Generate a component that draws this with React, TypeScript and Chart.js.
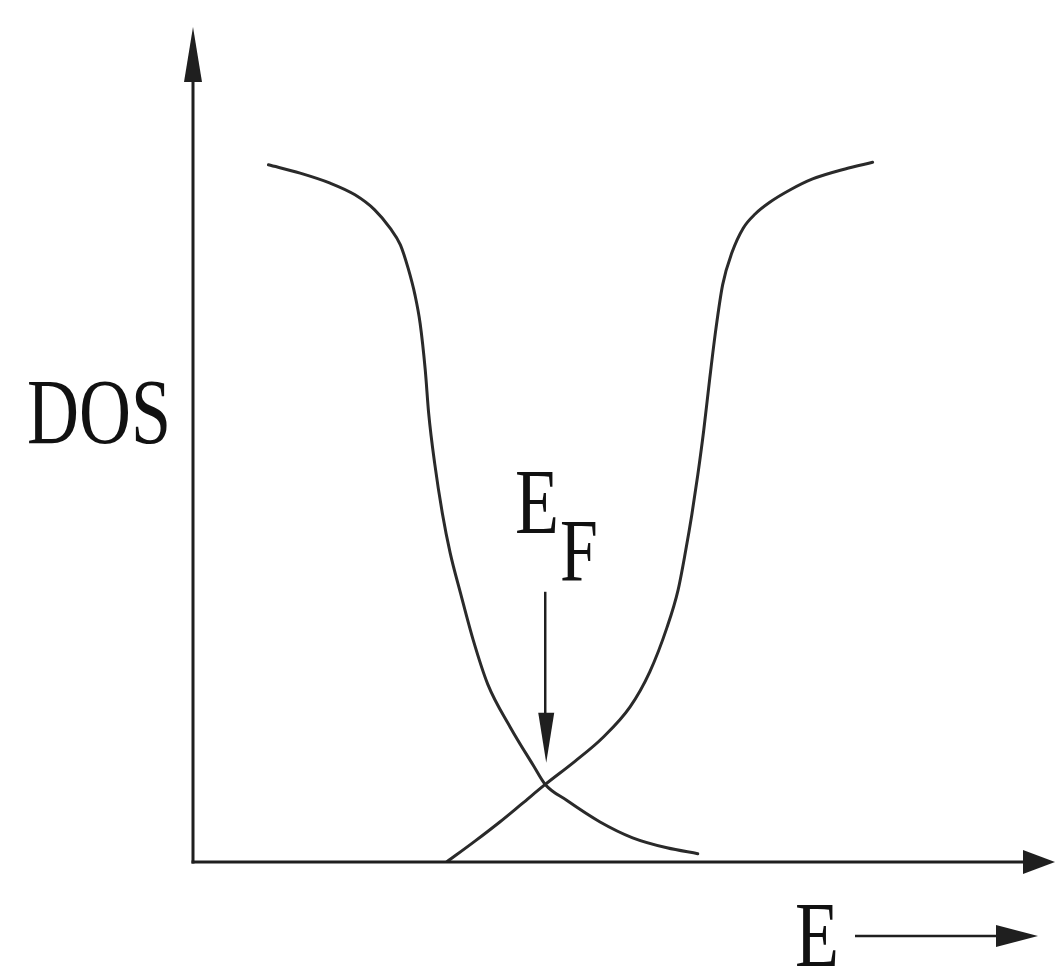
import React, { useEffect, useRef } from "react";
import { Chart, registerables } from "chart.js";

Chart.register(...registerables);

// Energy (arbitrary units, 0..10) and density of states (arbitrary units, 0..10)
const leftE = [0.88, 1.25, 1.6, 1.89, 2.12, 2.3, 2.42, 2.51, 2.59, 2.65, 2.71, 2.75, 2.82, 2.91, 3.0, 3.12, 3.27, 3.44, 3.7, 3.97, 4.11, 4.36, 4.75, 5.13, 5.53, 5.89];
const leftDOS = [8.36, 8.26, 8.14, 8.0, 7.82, 7.6, 7.4, 7.12, 6.8, 6.46, 5.9, 5.38, 4.78, 4.18, 3.71, 3.23, 2.66, 2.13, 1.62, 1.16, 0.93, 0.74, 0.48, 0.29, 0.17, 0.1];
const rightE = [2.96, 3.29, 3.58, 3.84, 4.11, 4.46, 4.78, 5.1, 5.33, 5.53, 5.66, 5.75, 5.82, 5.89, 5.96, 6.03, 6.1, 6.18, 6.29, 6.42, 6.56, 6.73, 6.97, 7.23, 7.61, 7.93];
const rightDOS = [0, 0.25, 0.48, 0.7, 0.93, 1.21, 1.49, 1.86, 2.28, 2.81, 3.26, 3.74, 4.16, 4.64, 5.18, 5.8, 6.38, 6.92, 7.31, 7.6, 7.77, 7.91, 8.06, 8.19, 8.31, 8.39];

const axisMin = [0, 0];
const axisMax = [10, 10];
const fermiE = 4.11;
const fermiArrowDOS = [3.24, 1.19];

const yTitle = "DOS";
const xTitle = "E";
const fermiMain = "E";
const fermiSub = "F";

const INK = "#1f1f1f";
const FONT = "'Liberation Serif', 'Times New Roman', serif";

function head(ctx: CanvasRenderingContext2D, tx: number, ty: number, dx: number, dy: number, len: number, half: number) {
  const bx = tx - dx * len;
  const by = ty - dy * len;
  const px = -dy;
  const py = dx;
  ctx.beginPath();
  ctx.moveTo(tx, ty);
  ctx.lineTo(bx + px * half, by + py * half);
  ctx.lineTo(bx - px * half, by - py * half);
  ctx.closePath();
  ctx.fill();
}

function stretchedText(ctx: CanvasRenderingContext2D, text: string, x: number, y: number, size: number) {
  ctx.save();
  ctx.translate(x, y);
  ctx.scale(1, 1.3);
  ctx.font = `${size}px ${FONT}`;
  ctx.textBaseline = "alphabetic";
  ctx.textAlign = "left";
  ctx.fillText(text, 0, 0);
  ctx.restore();
}

const annotations = {
  id: "annotations",
  afterDraw(chart: any) {
    const { ctx, chartArea } = chart;
    const xs = chart.scales.x;
    const ys = chart.scales.y;
    const x0 = xs.getPixelForValue(axisMin[0]);
    const y0 = ys.getPixelForValue(axisMin[1]);
    ctx.save();
    ctx.strokeStyle = INK;
    ctx.fillStyle = INK;
    ctx.lineCap = "butt";

    // y axis
    ctx.lineWidth = 3;
    ctx.beginPath();
    ctx.moveTo(x0, y0 + 1.5);
    ctx.lineTo(x0, chartArea.top + 40);
    ctx.stroke();
    head(ctx, x0, chartArea.top - 1, 0, -1, 55, 9);

    // x axis
    ctx.beginPath();
    ctx.moveTo(x0 - 1.5, y0);
    ctx.lineTo(chartArea.right - 10, y0);
    ctx.stroke();
    head(ctx, chartArea.right + 5, y0, 1, 0, 32, 12);

    // Fermi level arrow
    const fx = xs.getPixelForValue(fermiE);
    const fTop = ys.getPixelForValue(fermiArrowDOS[0]);
    const fTip = ys.getPixelForValue(fermiArrowDOS[1]);
    ctx.lineWidth = 2.5;
    ctx.beginPath();
    ctx.moveTo(fx, fTop);
    ctx.lineTo(fx, fTip - 30);
    ctx.stroke();
    head(ctx, fx + 1, fTip, 0, 1, 50, 8);

    // Labels
    ctx.fillStyle = "#111";
    stretchedText(ctx, yTitle, 27, 443, 72);
    stretchedText(ctx, fermiMain, 515, 533, 72);
    stretchedText(ctx, fermiSub, 560, 580, 68);
    stretchedText(ctx, xTitle, 795, 966, 72);

    // E -> arrow
    ctx.fillStyle = INK;
    ctx.lineWidth = 2.5;
    ctx.beginPath();
    ctx.moveTo(855, 936);
    ctx.lineTo(1005, 936);
    ctx.stroke();
    head(ctx, 1038, 936, 1, 0, 42, 11);

    ctx.restore();
  },
};

export default function App() {
  const ref = useRef<HTMLCanvasElement | null>(null);

  useEffect(() => {
    if (!ref.current) return;
    const toPts = (xs: number[], ys: number[]) => xs.map((v, i) => ({ x: v, y: ys[i] }));
    const chart = new Chart(ref.current, {
      type: "scatter",
      data: {
        datasets: [
          {
            label: "left band",
            data: toPts(leftE, leftDOS),
            showLine: true,
            borderColor: "#2a2a2a",
            borderWidth: 3,
            pointRadius: 0,
            cubicInterpolationMode: "monotone",
            fill: false,
          },
          {
            label: "right band",
            data: toPts(rightE, rightDOS),
            showLine: true,
            borderColor: "#2a2a2a",
            borderWidth: 3,
            pointRadius: 0,
            cubicInterpolationMode: "monotone",
            fill: false,
          },
        ],
      },
      options: {
        responsive: false,
        animation: false,
        devicePixelRatio: 1,
        layout: { padding: { left: 193, right: 6, top: 28, bottom: 109 } },
        plugins: {
          legend: { display: false },
          tooltip: { enabled: false },
          title: { display: false },
        },
        scales: {
          x: { type: "linear", min: axisMin[0], max: axisMax[0], display: false },
          y: { type: "linear", min: axisMin[1], max: axisMax[1], display: false },
        },
        elements: { line: { borderCapStyle: "round" } },
      },
      plugins: [annotations],
    });
    return () => chart.destroy();
  }, []);

  return (
    <div style={{ position: "fixed", left: 0, top: 0, width: 1056, height: 971, background: "#fff" }}>
      <canvas ref={ref} width={1056} height={971} style={{ display: "block", width: 1056, height: 971 }} />
    </div>
  );
}
